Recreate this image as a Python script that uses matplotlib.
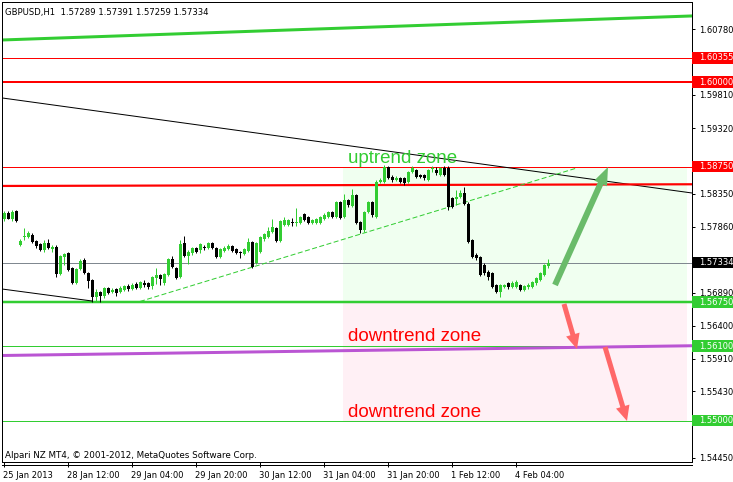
import matplotlib
matplotlib.use("Agg")
import matplotlib.pyplot as plt
import matplotlib.transforms as mtransforms
from matplotlib.patches import Rectangle, FancyArrowPatch
from matplotlib.lines import Line2D
import numpy as np

# GBPUSD H1 candles (one per hour)
opens = [
    1.5798, 1.5807, 1.5798, 1.5810, 1.5759, 1.5771, 1.5771, 1.5774, 1.5765, 1.5761,
    1.5752, 1.5762, 1.5753, 1.5756, 1.5717, 1.5742, 1.5748, 1.5725, 1.5703, 1.5724,
    1.5737, 1.5718, 1.5708, 1.5683, 1.5690, 1.5684, 1.5696, 1.5690, 1.5694, 1.5690,
    1.5693, 1.5699, 1.5694, 1.5702, 1.5696, 1.5703, 1.5703, 1.5699, 1.5711, 1.5715,
    1.5703, 1.5715, 1.5739, 1.5725, 1.5712, 1.5762, 1.5743, 1.5748, 1.5755, 1.5752,
    1.5756, 1.5755, 1.5762, 1.5755, 1.5742, 1.5750, 1.5753, 1.5758, 1.5753, 1.5749,
    1.5746, 1.5750, 1.5764, 1.5733, 1.5749, 1.5768, 1.5771, 1.5779, 1.5784, 1.5765,
    1.5789, 1.5789, 1.5793, 1.5792, 1.5792, 1.5805, 1.5801, 1.5792, 1.5792, 1.5792,
    1.5798, 1.5801, 1.5808, 1.5801, 1.5823, 1.5801, 1.5826, 1.5817, 1.5833, 1.5793,
    1.5781, 1.5808, 1.5823, 1.5801, 1.5852, 1.5852, 1.5875, 1.5860, 1.5855, 1.5858,
    1.5858, 1.5852, 1.5867, 1.5870, 1.5863, 1.5863, 1.5855, 1.5872, 1.5870, 1.5863,
    1.5873, 1.5873, 1.5828, 1.5827, 1.5830, 1.5836, 1.5820, 1.5767, 1.5745, 1.5742,
    1.5730, 1.5719, 1.5718, 1.5700, 1.5690, 1.5698, 1.5703, 1.5697, 1.5697, 1.5700,
    1.5693, 1.5697, 1.5697, 1.5703, 1.5708, 1.5715, 1.57289,
]
highs = [
    1.5810, 1.5809, 1.5811, 1.5811, 1.5768, 1.5784, 1.5780, 1.5777, 1.5767, 1.5762,
    1.5767, 1.5768, 1.5759, 1.5759, 1.5745, 1.5748, 1.5749, 1.5727, 1.5726, 1.5739,
    1.5740, 1.5720, 1.5709, 1.5694, 1.5691, 1.5697, 1.5697, 1.5696, 1.5696, 1.5699,
    1.5700, 1.5702, 1.5703, 1.5705, 1.5706, 1.5708, 1.5705, 1.5714, 1.5725, 1.5717,
    1.5718, 1.5740, 1.5743, 1.5727, 1.5767, 1.5773, 1.5752, 1.5756, 1.5756, 1.5762,
    1.5759, 1.5764, 1.5764, 1.5756, 1.5755, 1.5758, 1.5761, 1.5759, 1.5755, 1.5750,
    1.5755, 1.5770, 1.5765, 1.5764, 1.5773, 1.5777, 1.5786, 1.5798, 1.5786, 1.5796,
    1.5801, 1.5798, 1.5799, 1.5814, 1.5802, 1.5807, 1.5802, 1.5798, 1.5799, 1.5802,
    1.5807, 1.5810, 1.5810, 1.5824, 1.5824, 1.5834, 1.5827, 1.5842, 1.5835, 1.5795,
    1.5810, 1.5824, 1.5824, 1.5855, 1.5858, 1.5878, 1.5876, 1.5863, 1.5861, 1.5860,
    1.5860, 1.5869, 1.5876, 1.5872, 1.5864, 1.5864, 1.5872, 1.5876, 1.5875, 1.5875,
    1.5876, 1.5876, 1.5830, 1.5840, 1.5841, 1.5845, 1.5823, 1.5768, 1.5748, 1.5743,
    1.5733, 1.5722, 1.5720, 1.5702, 1.5702, 1.5702, 1.5705, 1.5706, 1.5708, 1.5702,
    1.5700, 1.5703, 1.5706, 1.5712, 1.5719, 1.5731, 1.57391,
]
lows = [
    1.5795, 1.5797, 1.5795, 1.5793, 1.5758, 1.5767, 1.5770, 1.5762, 1.5755, 1.5750,
    1.5749, 1.5753, 1.5749, 1.5712, 1.5715, 1.5730, 1.5721, 1.5702, 1.5701, 1.5722,
    1.5717, 1.5696, 1.5675, 1.5675, 1.5675, 1.5681, 1.5687, 1.5688, 1.5684, 1.5688,
    1.5691, 1.5691, 1.5693, 1.5694, 1.5694, 1.5697, 1.5694, 1.5694, 1.5702, 1.5700,
    1.5700, 1.5714, 1.5725, 1.5709, 1.5711, 1.5742, 1.5731, 1.5745, 1.5747, 1.5748,
    1.5752, 1.5753, 1.5753, 1.5740, 1.5740, 1.5749, 1.5752, 1.5749, 1.5746, 1.5740,
    1.5744, 1.5749, 1.5725, 1.5731, 1.5748, 1.5765, 1.5770, 1.5777, 1.5764, 1.5764,
    1.5787, 1.5787, 1.5787, 1.5787, 1.5790, 1.5795, 1.5790, 1.5790, 1.5790, 1.5790,
    1.5796, 1.5799, 1.5799, 1.5799, 1.5798, 1.5799, 1.5815, 1.5815, 1.5790, 1.5777,
    1.5778, 1.5807, 1.5801, 1.5799, 1.5851, 1.5851, 1.5857, 1.5852, 1.5854, 1.5851,
    1.5848, 1.5851, 1.5865, 1.5858, 1.5858, 1.5855, 1.5854, 1.5867, 1.5863, 1.5861,
    1.5861, 1.5811, 1.5814, 1.5818, 1.5828, 1.5818, 1.5762, 1.5740, 1.5737, 1.5714,
    1.5715, 1.5708, 1.5696, 1.5688, 1.5683, 1.5696, 1.5694, 1.5696, 1.5696, 1.5691,
    1.5691, 1.5694, 1.5696, 1.5700, 1.5706, 1.5714, 1.57259,
]
closes = [
    1.5807, 1.5798, 1.5808, 1.5795, 1.5765, 1.5773, 1.5777, 1.5764, 1.5758, 1.5752,
    1.5762, 1.5755, 1.5756, 1.5717, 1.5743, 1.5746, 1.5722, 1.5703, 1.5724, 1.5736,
    1.5718, 1.5706, 1.5683, 1.5690, 1.5684, 1.5696, 1.5689, 1.5693, 1.5689, 1.5696,
    1.5699, 1.5694, 1.5700, 1.5696, 1.5705, 1.5700, 1.5697, 1.5712, 1.5715, 1.5709,
    1.5717, 1.5739, 1.5727, 1.5711, 1.5761, 1.5743, 1.5749, 1.5755, 1.5749, 1.5761,
    1.5755, 1.5762, 1.5755, 1.5742, 1.5753, 1.5755, 1.5758, 1.5750, 1.5747, 1.5748,
    1.5753, 1.5764, 1.5727, 1.5762, 1.5771, 1.5776, 1.5780, 1.5786, 1.5765, 1.5795,
    1.5796, 1.5796, 1.5792, 1.5793, 1.5801, 1.5796, 1.5792, 1.5796, 1.5798, 1.5801,
    1.5804, 1.5808, 1.5801, 1.5823, 1.5799, 1.5826, 1.5818, 1.5833, 1.5792, 1.5781,
    1.5808, 1.5823, 1.5804, 1.5852, 1.5855, 1.5875, 1.5858, 1.5855, 1.5858, 1.5852,
    1.5851, 1.5867, 1.5873, 1.5860, 1.5860, 1.5858, 1.5870, 1.5873, 1.5865, 1.5873,
    1.5863, 1.5815, 1.5815, 1.5830, 1.5836, 1.5820, 1.5764, 1.5742, 1.5740, 1.5715,
    1.5718, 1.5712, 1.5697, 1.5690, 1.5700, 1.5700, 1.5697, 1.5703, 1.5705, 1.5693,
    1.5699, 1.5700, 1.5705, 1.5711, 1.5718, 1.5730, 1.57334,
]

# time axis (bar index of each label)
tick_bars = [0, 16, 32, 48, 64, 80, 96, 112, 128]
tick_labels = ["25 Jan 2013", "28 Jan 12:00", "29 Jan 04:00", "29 Jan 20:00",
               "30 Jan 12:00", "31 Jan 04:00", "31 Jan 20:00", "1 Feb 12:00",
               "4 Feb 04:00"]
price_ticks = [1.60780, 1.60290, 1.59810, 1.59320, 1.58830, 1.58350, 1.57860,
               1.57370, 1.56890, 1.56400, 1.55910, 1.55430, 1.54940, 1.54450]
# ticks whose label sits under a price box on the chart
covered_ticks = [1.60290, 1.58830, 1.57370, 1.54940]

# horizontal levels: price, colour, width (px)
levels = [1.60355, 1.60000, 1.58750, 1.57334, 1.56750, 1.56100, 1.55000]
level_colors = ["#ff0000", "#ff0000", "#ff0000", "#808890", "#32cd32", "#32cd32", "#32cd32"]
level_widths = [1, 2, 1, 1, 2.5, 1, 1]
label_colors = ["#ff0000", "#ff0000", "#ff0000", "#000000", "#32cd32", "#32cd32", "#32cd32"]

# trendlines: (bar0, price0), (bar1, price1)
channel_top = [(-0.5, 1.60621), (172, 1.60976)]
black_trend = [(-0.5, 1.59765), (172, 1.58361)]
red_trend = [(-0.5, 1.58465), (172, 1.58490)]
purple_trend = [(-0.5, 1.55961), (172, 1.56105)]
black_low = [(-0.5, 1.56943), (22, 1.56766)]
dashed_trend = [(34, 1.56759), (143.25, 1.58731)]

# zones
zone_bars = (84.75, 170.75)
up_zone = (1.5675, 1.5875)
down_zone = (1.5500, 1.5675)

# arrows: tail, tip
up_arrow = [(137.75, 1.57003), (151, 1.58745)]
down_arrow1 = [(140, 1.56722), (143.25, 1.56057)]
down_arrow2 = [(150.25, 1.56087), (155.75, 1.54994)]

PX = 0.72  # one pixel in points at dpi 100
GREEN = "#32cd32"

fig = plt.figure(figsize=(7.33, 4.82), dpi=100)
ax = fig.add_axes([2 / 733, 20 / 482, 690 / 733, 460 / 482])
ax.set_xlim(-0.5, 172)
ax.set_ylim(1.54388, 1.61182)

# zones
ax.add_patch(Rectangle((zone_bars[0], up_zone[0]), zone_bars[1] - zone_bars[0],
                       up_zone[1] - up_zone[0], facecolor="#f0fff0", edgecolor="none", zorder=0))
ax.add_patch(Rectangle((zone_bars[0], down_zone[0]), zone_bars[1] - zone_bars[0],
                       down_zone[1] - down_zone[0], facecolor="#fff0f5", edgecolor="none", zorder=0))

# horizontal levels
for p, c, w in zip(levels, level_colors, level_widths):
    ax.axhline(p, color=c, lw=w * PX, zorder=1)

# trendlines
def trend(pts, **kw):
    (x0, y0), (x1, y1) = pts
    ax.plot([x0, x1], [y0, y1], **kw)

trend(channel_top, color=GREEN, lw=3 * PX, zorder=1)
trend(black_trend, color="black", lw=1 * PX, zorder=1)
trend(red_trend, color="#ff0000", lw=2.2 * PX, zorder=1)
trend(purple_trend, color="#ba55d3", lw=3 * PX, zorder=1)
trend(black_low, color="black", lw=1 * PX, zorder=1)
trend(dashed_trend, color=GREEN, lw=1 * PX, dashes=(5, 2.5), zorder=1)

# candles
o = np.array(opens)
h = np.array(highs)
l = np.array(lows)
c = np.array(closes)
x = np.arange(len(o))
up = c >= o
cols = np.where(up, GREEN, "black")
ax.vlines(x, l, h, colors=cols, lw=1 * PX, zorder=3)
body_lo = np.minimum(o, c)
body_h = np.maximum(np.abs(c - o), 0.00012)
ax.bar(x, body_h, bottom=body_lo, width=0.75, color=cols, linewidth=0, zorder=4)

# arrows
def arrow(pts, color, tail, hw, hl):
    a = FancyArrowPatch(pts[0], pts[1],
                        arrowstyle=f"simple,head_length={hl},head_width={hw},tail_width={tail}",
                        mutation_scale=1, color=color, lw=0, shrinkA=0, shrinkB=0, zorder=5)
    ax.add_patch(a)

arrow(up_arrow, "#6abb6a", 6 * PX, 14 * PX, 18 * PX)
arrow(down_arrow1, "#ff6868", 5 * PX, 14 * PX, 15 * PX)
arrow(down_arrow2, "#ff6868", 5 * PX, 14 * PX, 15 * PX)

# zone captions
ax.text(86, 1.58804, "uptrend zone", color=GREEN, fontsize=13.5,
        family="Liberation Sans", va="baseline", ha="left", zorder=6)
ax.text(86, 1.56175, "downtrend zone", color="#ff0000", fontsize=13.5,
        family="Liberation Sans", va="baseline", ha="left", zorder=6)
ax.text(86, 1.55053, "downtrend zone", color="#ff0000", fontsize=13.5,
        family="Liberation Sans", va="baseline", ha="left", zorder=6)

# header / footer
fig.text(5 / 733, 1 - 12 / 482, "GBPUSD,H1  1.57289 1.57391 1.57259 1.57334",
         fontsize=6.1, va="center", ha="left")
fig.text(5 / 733, 1 - 455 / 482, "Alpari NZ MT4, \u00a9 2001-2012, MetaQuotes Software Corp.",
         fontsize=6.3, va="center", ha="left")

# axes
for s in ax.spines.values():
    s.set_linewidth(1 * PX)
    s.set_color("black")
ax.yaxis.tick_right()
ax.set_yticks(price_ticks)
ax.set_yticklabels(["" if p in covered_ticks else f"{p:.5f}" for p in price_ticks])
ax.tick_params(axis="y", length=3 * PX, width=PX, pad=3, labelsize=6, direction="out")
ax.set_xticks(tick_bars)
ax.set_xticklabels(tick_labels, ha="left")
ax.tick_params(axis="x", length=5 * PX, width=PX, pad=3, labelsize=6, direction="out")
off = mtransforms.ScaledTranslation(-1 / 100, 0, fig.dpi_scale_trans)
for t in ax.get_xticklabels():
    t.set_transform(t.get_transform() + off)

fig.add_artist(Line2D([2 / 733, 692 / 733], [1 - 464.5 / 482] * 2, color="black", lw=PX))

# price label boxes on the right axis
blend = mtransforms.blended_transform_factory(ax.transAxes, ax.transData)
box_h = 11.5 / 6771
for p, bc in zip(levels, label_colors):
    ax.add_patch(Rectangle((1.0, p - box_h / 2), 41 / 690, box_h, transform=blend,
                           facecolor=bc, edgecolor="none", clip_on=False, zorder=7))
    ax.text(1.0 + 7 / 690, p, f"{p:.5f}", transform=blend, color="white", fontsize=6,
            va="center", ha="left", clip_on=False, zorder=8)

fig.savefig("out.png", dpi=100, facecolor="white")
